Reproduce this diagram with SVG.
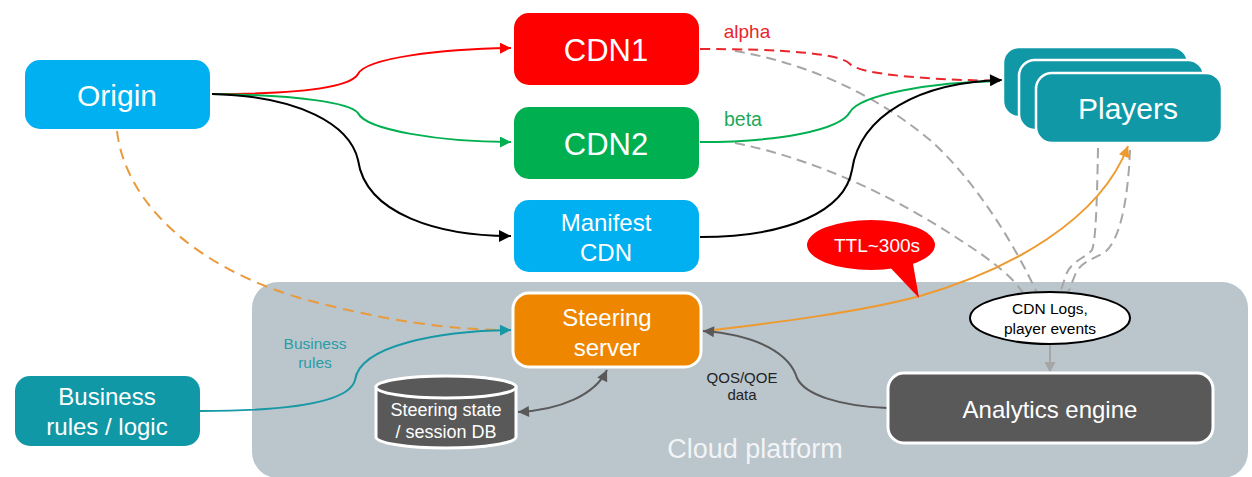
<svg xmlns="http://www.w3.org/2000/svg" width="1252" height="477" viewBox="0 0 1252 477">
  <defs>
    <marker id="ah-red" viewBox="0 0 10 10" refX="10" refY="5" markerUnits="userSpaceOnUse" markerWidth="13" markerHeight="11" orient="auto">
      <path d="M0,0 L10,5 L0,10 Z" fill="#FF0000"/>
    </marker>
    <marker id="ah-green" viewBox="0 0 10 10" refX="10" refY="5" markerUnits="userSpaceOnUse" markerWidth="13" markerHeight="11" orient="auto">
      <path d="M0,0 L10,5 L0,10 Z" fill="#00B050"/>
    </marker>
    <marker id="ah-black" viewBox="0 0 10 10" refX="10" refY="5" markerUnits="userSpaceOnUse" markerWidth="14" markerHeight="12" orient="auto">
      <path d="M0,0 L10,5 L0,10 Z" fill="#000000"/>
    </marker>
    <marker id="ah-teal" viewBox="0 0 10 10" refX="10" refY="5" markerUnits="userSpaceOnUse" markerWidth="13" markerHeight="11" orient="auto">
      <path d="M0,0 L10,5 L0,10 Z" fill="#1798A5"/>
    </marker>
    <marker id="ah-orange" viewBox="0 0 10 10" refX="10" refY="5" markerUnits="userSpaceOnUse" markerWidth="13" markerHeight="11" orient="auto">
      <path d="M0,0 L10,5 L0,10 Z" fill="#EE9A2E"/>
    </marker>
    <marker id="ah-dark" viewBox="0 0 10 10" refX="10" refY="5" markerUnits="userSpaceOnUse" markerWidth="13" markerHeight="11" orient="auto-start-reverse">
      <path d="M0,0 L10,5 L0,10 Z" fill="#595959"/>
    </marker>
    <marker id="ah-gray" viewBox="0 0 10 10" refX="10" refY="5" markerUnits="userSpaceOnUse" markerWidth="12" markerHeight="11" orient="auto">
      <path d="M0,0 L10,5 L0,10 Z" fill="#A6A6A6"/>
    </marker>
  </defs>
  <style>
    text { font-family: "Liberation Sans", Arial, sans-serif; text-anchor: middle; }
    .box-text { fill: #ffffff; }
    .wire { fill: none; stroke-width: 2; }
    .dash { stroke-dasharray: 10 6; }
    .framed { stroke: #ffffff; stroke-width: 3; }
  </style>

  <rect width="1252" height="477" fill="#ffffff"/>

  <!-- cloud platform area -->
  <g id="cloud-platform">
    <rect x="252" y="282" width="996" height="196" rx="26" fill="#BAC5CC"/>
    <text x="755" y="458" font-size="27" fill="#F2F4F6">Cloud platform</text>
  </g>

  <!-- connectors -->
  <g id="connectors">
    <!-- origin to the CDNs -->
    <path class="wire" stroke="#FF0000" d="M212,94 C300,94 350,88 358,74 C366,58 440,49 511,48" marker-end="url(#ah-red)"/>
    <path class="wire" stroke="#00B050" d="M212,94 C300,95 350,103 358,113 C366,130 440,142 511,142" marker-end="url(#ah-green)"/>
    <path class="wire" stroke="#000000" d="M212,94 C300,96 350,125 358,160 C366,215 440,236 511,236" marker-end="url(#ah-black)"/>

    <!-- log flows to the collector -->
    <path class="wire dash" stroke="#A6A6A6" d="M735,51 C800,62 870,90 930,140 C975,180 1015,245 1037,293"/>
    <path class="wire dash" stroke="#A6A6A6" d="M735,143 C820,160 900,200 960,240 C995,262 1015,280 1023,293"/>
    <path class="wire dash" stroke="#A6A6A6" d="M1098,148 C1097,200 1096,240 1092,250 C1085,258 1070,262 1066,275 L1060,293"/>
    <path class="wire dash" stroke="#A6A6A6" d="M1130,150 C1128,200 1120,240 1105,252 C1092,260 1080,262 1075,275 L1068,293"/>

    <!-- CDNs to players -->
    <path class="wire dash" stroke="#E8262B" d="M700,49 C780,49 840,53 850,64 C858,72 900,79 1000,81"/>
    <path class="wire" stroke="#00B050" d="M700,142 C780,142 840,130 850,112 C860,95 930,82 1000,81"/>
    <path class="wire" stroke="#000000" d="M700,237 C790,237 845,210 852,170 C860,115 920,82 1002,80" marker-end="url(#ah-black)"/>

    <!-- origin to steering server -->
    <path class="wire" stroke="#E89A3C" stroke-dasharray="11 7" d="M117,131 C125,200 190,265 300,298 C380,320 450,330 505,330"/>
    <!-- business rules to steering server -->
    <path class="wire" stroke="#1798A5" d="M200,411 C300,411 350,400 355,380 C360,345 440,331 511,330" marker-end="url(#ah-teal)"/>

    <!-- steering server to players -->
    <path class="wire" stroke="#EE9A2E" d="M706,331 C780,322 860,312 920,296 C1010,270 1100,220 1128,146" marker-end="url(#ah-orange)"/>

    <!-- analytics back to steering server -->
    <path class="wire" stroke="#595959" d="M887,408 C840,406 805,395 797,378 C790,355 760,335 703,331" marker-end="url(#ah-dark)"/>

    <!-- steering server and state DB -->
    <path class="wire" stroke="#595959" d="M518,412 C560,410 595,395 607,370" marker-start="url(#ah-dark)" marker-end="url(#ah-dark)"/>

    <!-- collector to analytics -->
    <path class="wire" stroke="#A6A6A6" d="M1050,344 L1050,373" marker-end="url(#ah-gray)"/>
  </g>

  <!-- nodes -->
  <g id="origin">
    <rect x="25" y="60" width="185" height="69" rx="15" fill="#00B0F0"/>
    <text class="box-text" x="117" y="106" font-size="30">Origin</text>
  </g>

  <g id="cdn1">
    <rect x="514" y="13" width="185" height="72" rx="15" fill="#FF0000"/>
    <text class="box-text" x="606" y="61" font-size="31">CDN1</text>
  </g>

  <g id="cdn2">
    <rect x="514" y="107" width="185" height="72" rx="15" fill="#00B050"/>
    <text class="box-text" x="606" y="155" font-size="31">CDN2</text>
  </g>

  <g id="manifest-cdn">
    <rect x="514" y="200" width="185" height="72" rx="15" fill="#00B0F0"/>
    <text class="box-text" x="606" y="231" font-size="24">Manifest</text>
    <text class="box-text" x="606" y="261" font-size="24">CDN</text>
  </g>

  <g id="players">
    <rect x="1003" y="47" width="185" height="70" rx="16" fill="#1098A6" stroke="#ffffff" stroke-width="2.5"/>
    <rect x="1019" y="60" width="185" height="70" rx="16" fill="#1098A6" stroke="#ffffff" stroke-width="2.5"/>
    <rect x="1036" y="73" width="186" height="70" rx="16" fill="#1098A6" stroke="#ffffff" stroke-width="2.5"/>
    <text class="box-text" x="1128" y="119" font-size="30">Players</text>
  </g>

  <g id="steering-server">
    <rect class="framed" x="513" y="293" width="188" height="74" rx="16" fill="#EE8600"/>
    <text class="box-text" x="607" y="326" font-size="24">Steering</text>
    <text class="box-text" x="607" y="356" font-size="24">server</text>
  </g>

  <g id="state-db">
    <path class="framed" d="M376,387 L376,437 A70,11 0 0 0 516,437 L516,387 Z" fill="#595959"/>
    <ellipse class="framed" cx="446" cy="387" rx="70" ry="11" fill="#595959"/>
    <text class="box-text" x="446" y="416" font-size="18">Steering state</text>
    <text class="box-text" x="446" y="438" font-size="18">/ session DB</text>
  </g>

  <g id="business-logic">
    <rect x="15" y="376" width="185" height="70" rx="15" fill="#1098A6"/>
    <text class="box-text" x="107" y="405" font-size="24">Business</text>
    <text class="box-text" x="107" y="435" font-size="24">rules / logic</text>
  </g>

  <g id="analytics-engine">
    <rect class="framed" x="888" y="373" width="325" height="70" rx="16" fill="#595959"/>
    <text class="box-text" x="1050" y="418" font-size="24">Analytics engine</text>
  </g>

  <g id="log-collector">
    <ellipse cx="1050" cy="318" rx="80" ry="26" fill="#ffffff" stroke="#000000" stroke-width="2"/>
    <text x="1050" y="314" font-size="15.5" fill="#000000">CDN Logs,</text>
    <text x="1050" y="334" font-size="15.5" fill="#000000">player events</text>
  </g>

  <g id="ttl-callout">
    <path d="M885,262 L919,298 L912,258 Z" fill="#FF0000"/>
    <ellipse cx="871" cy="245" rx="64" ry="25" fill="#FF0000"/>
    <text class="box-text" x="877" y="252" font-size="19">TTL~300s</text>
  </g>

  <!-- edge labels -->
  <g id="labels">
    <text x="747" y="38" font-size="19" fill="#E8262B">alpha</text>
    <text x="743" y="126" font-size="19.5" fill="#1FA85A">beta</text>
    <text x="315" y="349" font-size="15.5" fill="#2A9DA8">Business</text>
    <text x="315" y="368" font-size="15.5" fill="#2A9DA8">rules</text>
    <text x="742" y="383" font-size="15" fill="#222222">QOS/QOE</text>
    <text x="742" y="400" font-size="15" fill="#222222">data</text>
  </g>
</svg>
